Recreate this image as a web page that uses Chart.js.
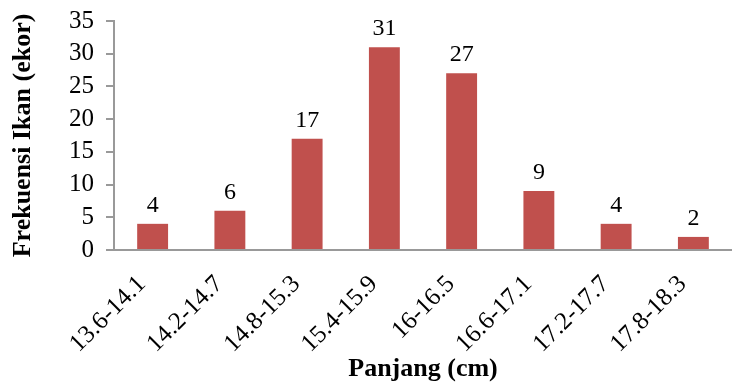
<!DOCTYPE html>
<html>
<head>
<meta charset="utf-8">
<script src="https://cdn.jsdelivr.net/npm/chart.js@4/dist/chart.umd.min.js"></script>
<style>
  html, body { margin: 0; padding: 0; background: #fff; }
  #wrap { width: 732px; height: 385px; }
</style>
</head>
<body>
<div id="wrap"><canvas id="c" width="732" height="385"></canvas></div>
<script>
const categories = ['13.6-14.1', '14.2-14.7', '14.8-15.3', '15.4-15.9', '16-16.5', '16.6-17.1', '17.2-17.7', '17.8-18.3'];
const frequencies = [4, 6, 17, 31, 27, 9, 4, 2];
const yTicks = [0, 5, 10, 15, 20, 25, 30, 35];

const serif = '"Liberation Serif", "Times New Roman", serif';

// Writes each bar's value above it
const valueLabels = {
  id: 'valueLabels',
  afterDatasetsDraw(chart) {
    const ctx = chart.ctx;
    const meta = chart.getDatasetMeta(0);
    ctx.save();
    ctx.font = '24px ' + serif;
    ctx.fillStyle = '#000';
    ctx.textAlign = 'center';
    ctx.textBaseline = 'alphabetic';
    meta.data.forEach((bar, i) => {
      ctx.fillText(String(frequencies[i]), bar.x, bar.y - 12);
    });
    ctx.restore();
  }
};

// Category names under the x axis, slanted at 45 degrees and ending just left of each tick
const slantedCategoryLabels = {
  id: 'slantedCategoryLabels',
  afterDraw(chart) {
    const ctx = chart.ctx;
    const xs = chart.scales.x;
    ctx.save();
    ctx.font = '25px ' + serif;
    ctx.fillStyle = '#000';
    ctx.textAlign = 'right';
    ctx.textBaseline = 'alphabetic';
    categories.forEach((name, i) => {
      const px = xs.getPixelForTick(i);
      ctx.save();
      ctx.translate(px - 6, xs.top + 35);
      ctx.rotate(-Math.PI / 4);
      ctx.fillText(name, 0, 0);
      ctx.restore();
    });
    ctx.restore();
  }
};

new Chart(document.getElementById('c'), {
  type: 'bar',
  data: {
    labels: categories,
    datasets: [{
      data: frequencies,
      backgroundColor: '#C0504D',
      borderWidth: 0,
      categoryPercentage: 1.0,
      barPercentage: 0.4
    }]
  },
  options: {
    responsive: false,
    animation: false,
    events: [],
    layout: { padding: { left: 6, right: 0, top: 21, bottom: 0 } },
    plugins: { legend: { display: false }, tooltip: { enabled: false } },
    scales: {
      x: {
        afterFit(scale) { scale.height = 385 - 249 - 1; },
        grid: { display: false, drawTicks: false },
        border: { color: '#999', width: 2 },
        ticks: { display: false },
        title: {
          display: true,
          text: 'Panjang (cm)',
          color: '#000',
          font: { family: serif, size: 26, weight: 'bold' },
          padding: { top: 0, bottom: 0 }
        }
      },
      y: {
        min: 0, max: 35,
        afterBuildTicks(scale) { scale.ticks = yTicks.map(v => ({ value: v })); },
        afterFit(scale) { scale.width = 114 - 6; scale.paddingTop = 0; scale.paddingBottom = 0; },
        grid: { display: true, drawOnChartArea: false, drawTicks: true, tickLength: 8, color: '#999', lineWidth: 2 },
        border: { color: '#999', width: 2 },
        ticks: {
          color: '#000',
          font: { family: serif, size: 25 },
          autoSkip: false,
          padding: 12
        },
        title: {
          display: true,
          text: 'Frekuensi Ikan (ekor)',
          color: '#000',
          font: { family: serif, size: 26, weight: 'bold' },
          padding: { top: 2, bottom: 0 }
        }
      }
    }
  },
  plugins: [valueLabels, slantedCategoryLabels]
});
</script>
</body>
</html>
